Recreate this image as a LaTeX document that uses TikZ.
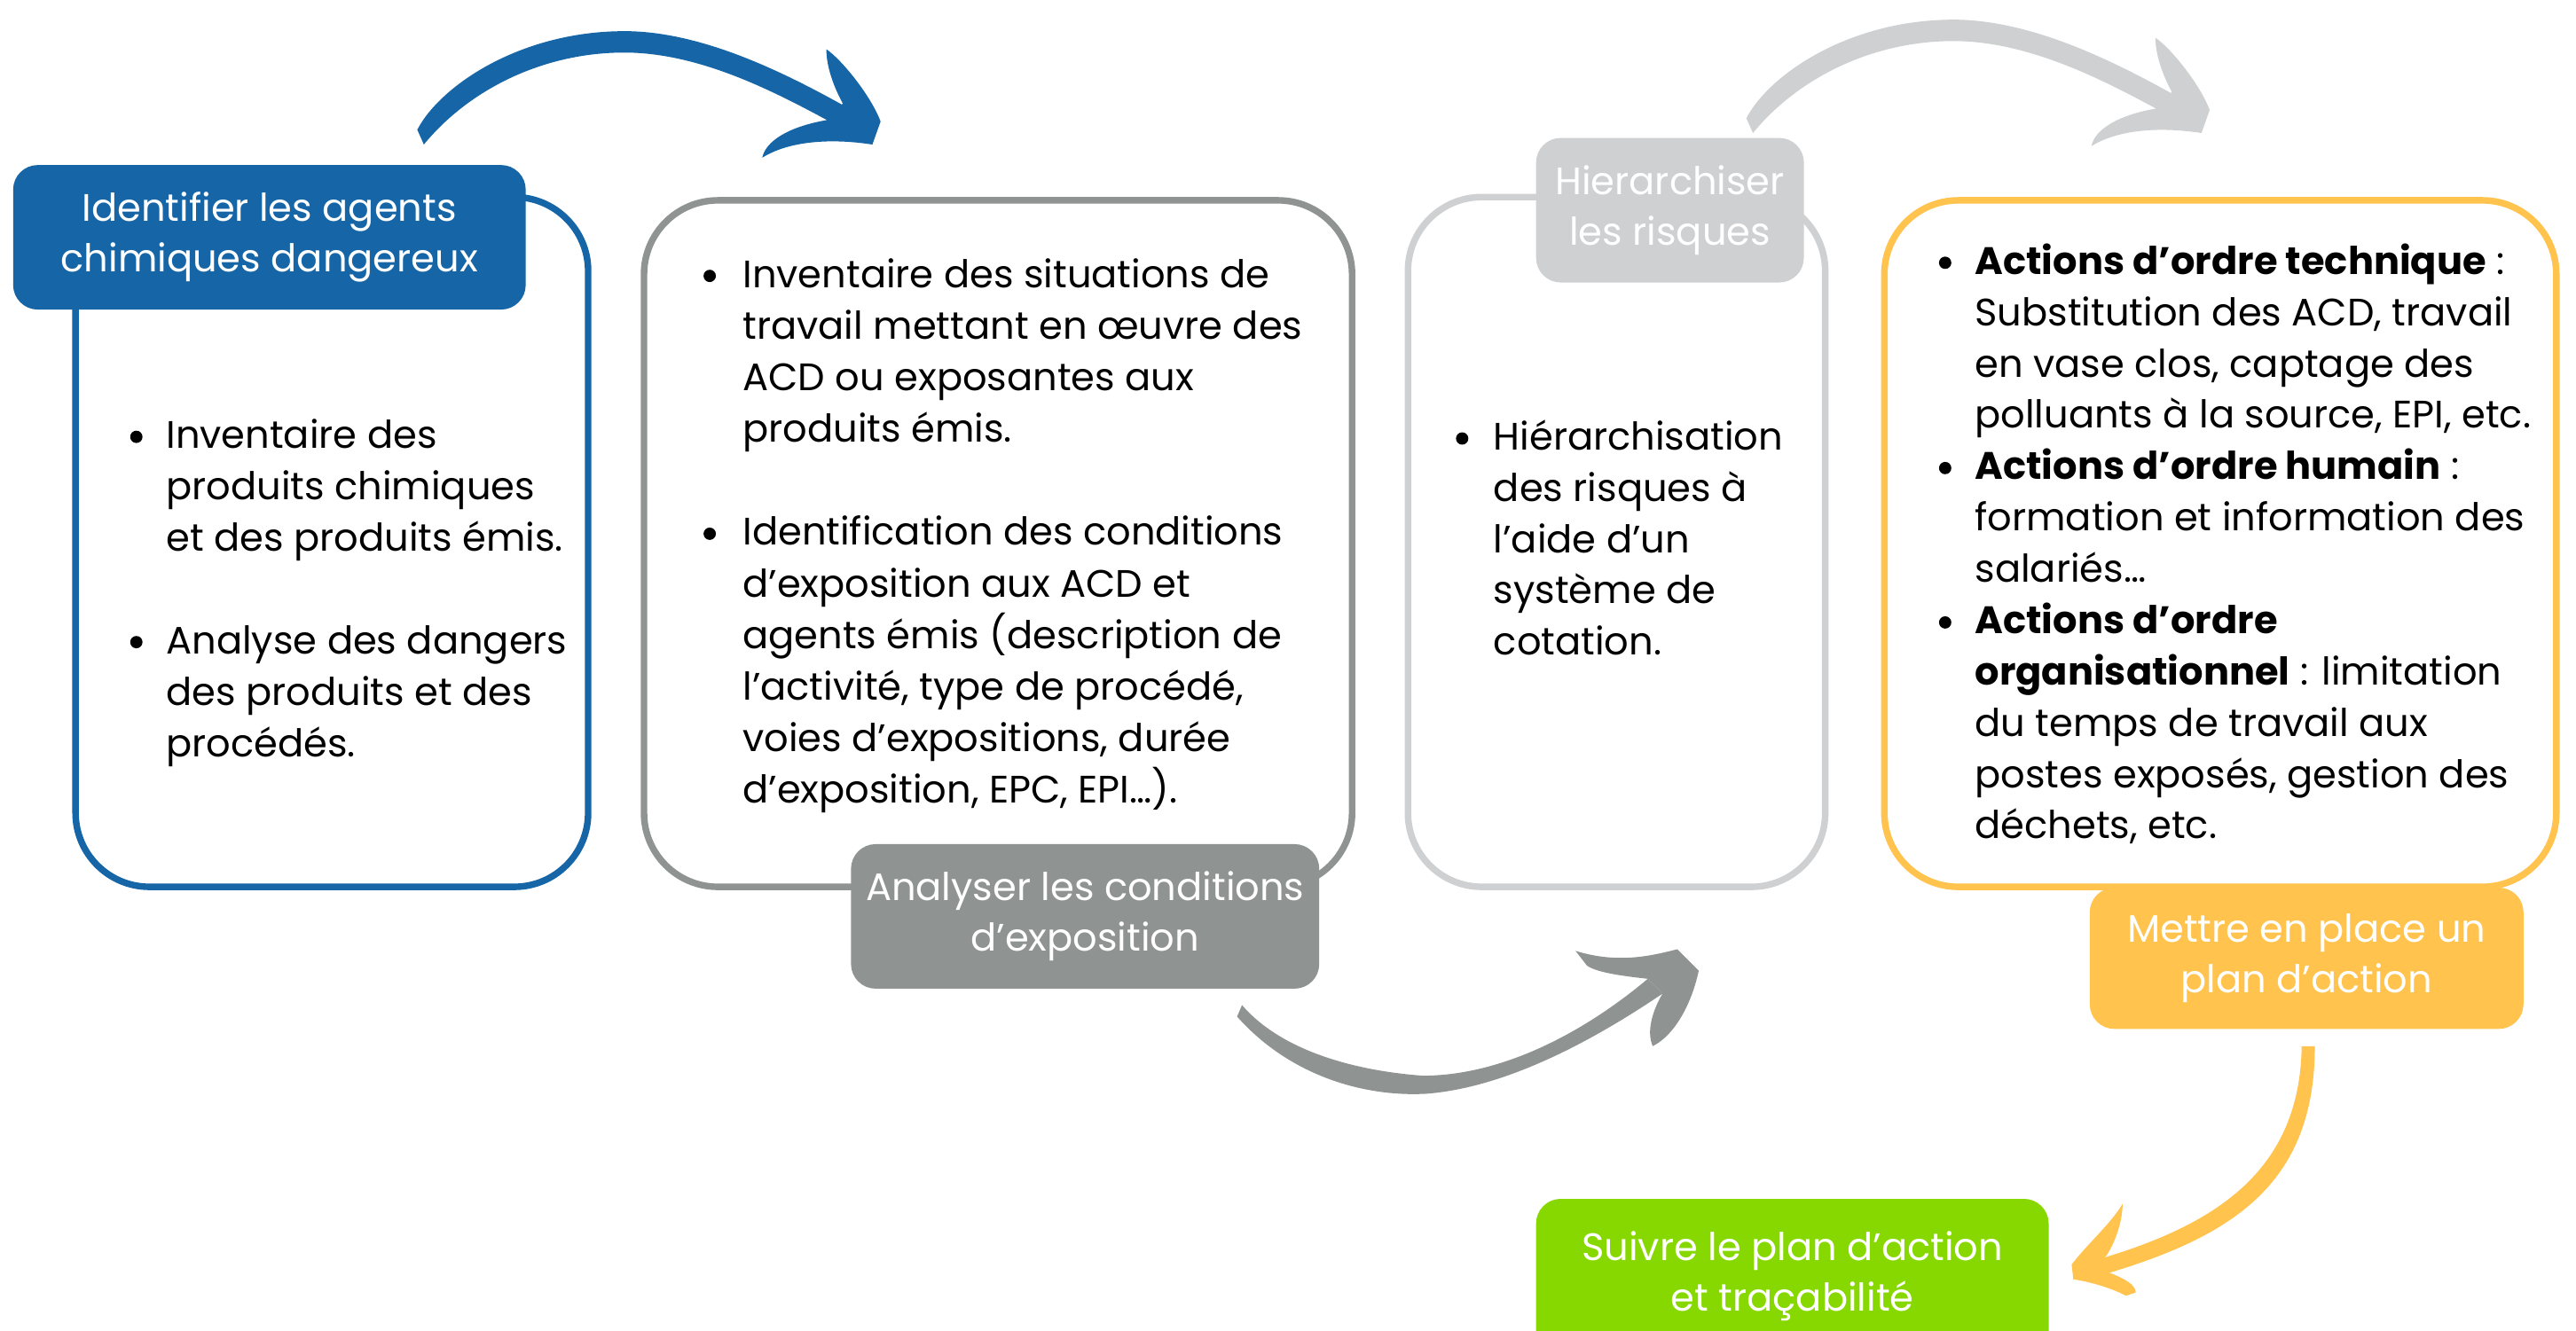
\documentclass[tikz,border=0pt]{standalone}
\usepackage{fontspec}
\setmainfont{Poppins}
\definecolor{cblue}{HTML}{1565A7}
\definecolor{cdgray}{HTML}{8F9392}
\definecolor{clgray}{HTML}{CFD0D2}
\definecolor{cyellow}{HTML}{FFC34E}
\definecolor{cgreen}{HTML}{86D800}
\newcommand\lineblock[5]{%
  \foreach \t [count=\i] in {#5}{\node[ln] (#1\i) at (#2,{#3+(\i-1)*#4}) {\t};}}
\newcommand\bluearrowpath{%
  (254,79) .. controls (268,52) and (318,18) .. (383,19)
  .. controls (425,20) and (470,40) .. (513,64) -- (505,74)
  .. controls (470,55) and (425,32) .. (380,32)
  .. controls (330,32) and (285,55) .. (258,88) -- cycle
  (503,30) .. controls (512,36) and (530,58) .. (536,74) -- (531,88)
  .. controls (505,84) and (480,86) .. (464,96)
  .. controls (466,86) and (480,77) .. (504,73) -- (513,63)
  .. controls (507,52) and (503,40) .. (503,30) -- cycle}
\begin{document}
\begin{tikzpicture}[x=1pt,y=-1pt,
  frame/.style={line width=4pt, rounded corners=45pt},
  hdr/.style={rounded corners=15pt, text=white, align=center, inner sep=0pt,
    font=\fontsize{23.3}{31}\selectfont},
  ln/.style={anchor=base west, inner sep=0pt, font=\fontsize{23.3}{31}\selectfont},
  bul/.style={circle, fill=black, inner sep=0pt, minimum size=7.5pt}]
\useasboundingbox (0,0) rectangle (1568,810);
\clip (0,0) rectangle (1568,810);
\fill[white] (0,0) rectangle (1568,810);

% frames
\draw[frame, cblue] (46,120) rectangle (358,540);
\draw[frame, cdgray] (392,122) rectangle (823,540);
\draw[frame, clgray] (857,120) rectangle (1111,540);
\draw[frame, cyellow] (1147,122) rectangle (1556,540);

% headers
\node[hdr, fill=cblue, minimum width=312pt, minimum height=88pt] (h1) at (164,144.5)
  {Identifier les agents\\chimiques dangereux};
\node[hdr, fill=cdgray, minimum width=285pt, minimum height=88pt] (h2) at (660.5,558)
  {Analyser les conditions\\d’exposition};
\node[hdr, fill=clgray, minimum width=163pt, minimum height=88pt] (h3) at (1016.5,128)
  {Hierarchiser\\les risques};
\node[hdr, fill=cyellow, minimum width=264pt, minimum height=86pt] (h4) at (1404,583.5)
  {Mettre en place un\\plan d’action};
\fill[cgreen, rounded corners=15pt] (935,730) rectangle (1247,850);
\node[hdr] (h5) at (1091,777) {Suivre le plan d’action\\et traçabilité};

% box 1 text
\node[bul] (b1a) at (83,266) {};
\node[bul] (b1b) at (83,391) {};
\lineblock{ta}{101}{273}{31.3}{{Inventaire des},{produits chimiques},{et des produits émis.},{},{Analyse des dangers},{des produits et des},{procédés.}}

% box 2 text
\node[bul] (b2a) at (432,168) {};
\node[bul] (b2b) at (432,325) {};
\lineblock{tb}{452}{175}{31.4}{{Inventaire des situations de},{travail mettant en œuvre des},{ACD ou exposantes aux},{produits émis.},{},{Identification des conditions},{d’exposition aux ACD et},{agents émis (description de},{l’activité, type de procédé,},{voies d’expositions, durée},{d’exposition, EPC, EPI…).}}

% box 3 text
\node[bul] (b3a) at (890,267) {};
\lineblock{tc}{909}{274}{31.2}{{Hiérarchisation},{des risques à},{l’aide d’un},{système de},{cotation.}}

% box 4 text
\node[bul] (b4a) at (1184,160) {};
\node[bul] (b4b) at (1184,285) {};
\node[bul] (b4c) at (1184,379) {};
\lineblock{td}{1202}{167}{31.25}{{\textbf{Actions d’ordre technique} :},{Substitution des ACD, travail},{en vase clos, captage des},{polluants à la source, EPI, etc.},{\textbf{Actions d’ordre humain} :},{formation et information des},{salariés…},{\textbf{Actions d’ordre}},{\textbf{organisationnel} : limitation},{du temps de travail aux},{postes exposés, gestion des},{déchets, etc.}}

% arrows
\fill[cblue] \bluearrowpath;
\begin{scope}[shift={(809,-7)}]
\fill[clgray] \bluearrowpath;
\end{scope}
\fill[cdgray] (753,619) .. controls (785,655) and (830,668) .. (868,666)
  .. controls (920,662) and (975,630) .. (1012,605) -- (1003,596)
  .. controls (965,628) and (915,655) .. (866,655)
  .. controls (825,652) and (780,640) .. (756,612) -- cycle;
\fill[cdgray] (959,579) .. controls (985,587) and (1005,582) .. (1021,578) -- (1034,591)
  .. controls (1030,610) and (1020,630) .. (1006,637)
  .. controls (1002,628) and (1006,615) .. (1012,605) -- (1003,596)
  .. controls (985,594) and (972,592) .. (966,588) -- cycle;
\fill[cyellow] (1401,637) -- (1409,637) .. controls (1409,720) and (1360,752) .. (1284,775)
  -- (1280,766) .. controls (1350,745) and (1400,712) .. (1401,637) -- cycle;
\fill[cyellow] (1292,733) .. controls (1292,745) and (1286,760) .. (1281,766) -- (1284,775)
  .. controls (1292,778) and (1300,782) .. (1300,787) -- (1294,789)
  .. controls (1285,784) and (1270,780) .. (1262,779) -- (1261,770)
  .. controls (1270,758) and (1285,745) .. (1292,733) -- cycle;
\end{tikzpicture}
\end{document}
